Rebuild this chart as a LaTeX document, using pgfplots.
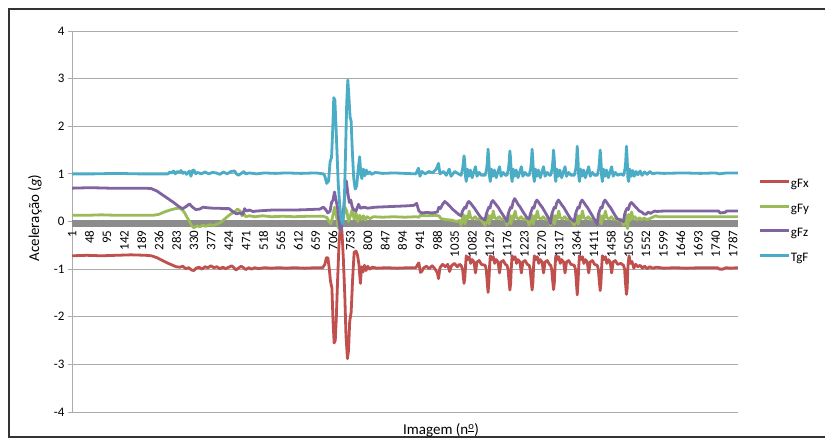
\documentclass[border=0pt]{standalone}
\usepackage{pgfplots}
\pgfplotsset{compat=1.18}
\usepackage{fontspec}
\setmainfont{Carlito}
\definecolor{cx}{HTML}{C0504D}
\definecolor{cy}{HTML}{9BBB59}
\definecolor{cz}{HTML}{8064A2}
\definecolor{ct}{HTML}{4BACC6}
\definecolor{gridc}{HTML}{ABABAB}
\definecolor{bandc}{HTML}{8C8C8C}
\begin{document}
\begin{tikzpicture}
\useasboundingbox (0,0) rectangle (825pt,438pt);
\fill[white] (0,0) rectangle (825pt,438pt);
\draw[line width=1.5pt, black!80] (9pt,-2pt) -- (9pt,429pt) -- (830pt,429pt);
\draw[line width=1.5pt, black!80] (9pt,1pt) -- (830pt,1pt);
\begin{axis}[
 at={(72pt,26pt)}, anchor=south west, scale only axis, width=666pt, height=381pt,
 xmin=0.5, xmax=1800.5, ymin=-4, ymax=4,
 axis x line=middle, axis y line=left, axis line style={-},
 x axis line style={draw=none},
 y axis line style={gridc, line width=0.9pt},
 xtick={1,48,...,1787},
 ytick={-4,-3,-2,-1,0,1,2,3,4},
 ymajorgrids, grid style={gridc, line width=0.9pt},
 xtick style={draw=none},
 ytick style={gridc, line width=0.9pt},
 tick align=outside, major tick length=4pt,
 /pgf/number format/assume math mode=true,
 /pgf/number format/1000 sep={},
 xticklabel shift=4pt,
 xticklabel style={rotate=90, anchor=east, font=\fontsize{13}{14}\selectfont, inner sep=1pt},
 yticklabel style={font=\fontsize{13}{14}\selectfont},
 every axis plot/.append style={line width=2.8pt, line join=round},
 no markers,
 legend style={at={(1.03,0.5)}, anchor=west, draw=none, fill=none, inner sep=0pt, row sep=10.7pt, font=\fontsize{13}{14}\selectfont, nodes={inner sep=1pt, text height=9pt, text depth=3pt}},
 legend cell align=left,
 legend image code/.code={\draw[#1, line width=2.8pt] (0pt,3pt) -- (29pt,3pt);},
]
\addplot[bandc, line width=7pt, forget plot] coordinates {(0.5,-0.035) (1800.5,-0.035)};

\addplot[cx] coordinates {
(1,-0.72) (40,-0.71) (80,-0.72) (120,-0.71) (160,-0.70) (200,-0.71) (215,-0.72) (230,-0.76) (245,-0.82) (258,-0.87) (270,-0.91) (282,-0.95) (292,-0.96) (300,-0.94) (308,-0.99) (316,-0.97) (324,-1.02) (330,-1.03) (336,-0.98) (344,-0.96) (352,-1.0) (360,-0.95) (368,-0.97) (376,-0.93) (384,-0.97) (392,-0.95) (400,-0.99) (408,-0.96) (416,-0.99) (424,-0.96) (432,-0.93) (438,-0.97) (444,-1.02) (450,-0.98) (458,-0.94) (464,-0.97) (470,-1.01) (478,-0.97) (486,-1.0) (494,-0.97) (505,-0.99) (520,-0.97) (540,-0.98) (560,-0.97) (580,-0.98) (600,-0.97) (630,-0.98) (660,-0.97) (678,-0.97) (684,-0.9) (688,-0.76) (692,-0.76) (696,-1.0) (699,-1.25) (703,-1.4) (706,-2.1) (709,-2.55) (712,-2.5) (715,-2.0) (718,-1.3) (722,-0.5) (726,-0.05) (730,-0.2) (734,-0.8) (738,-1.6) (741,-2.4) (745,-2.88) (748,-2.7) (751,-2.1) (755,-1.9) (759,-1.2) (763,-0.65) (768,-0.62) (772,-0.7) (776,-0.9) (780,-1.3) (783,-0.95) (787,-1.06) (791,-0.92) (795,-1.03) (800,-0.94) (805,-1.0) (812,-0.96) (825,-0.98) (850,-0.97) (880,-0.98) (910,-0.97) (930,-0.97) (935,-0.9) (938,-0.87) (942,-1.07) (946,-1.05) (950,-0.98) (958,-0.94) (966,-0.99) (974,-0.93) (982,-1.0) (988,-1.08) (991,-1.2) (995,-0.97) (1002,-0.9) (1010,-0.95) (1016,-0.9) (1021,-1.05) (1026,-0.93) (1034,-0.88) (1042,-0.95) (1048,-0.9)
(1052,-0.92) (1056,-1.0) (1058,-1.15) (1060,-1.3) (1062,-1.2) (1064,-0.95) (1066,-0.72) (1070,-0.8) (1074,-0.74) (1078,-0.88) (1082,-0.8) (1087,-0.85) (1091,-1.08) (1095,-0.85) (1101,-0.82) (1107,-0.9)
(1117,-0.92) (1120,-1.0) (1122,-1.2) (1125,-1.49) (1127,-1.3) (1129,-0.95) (1131,-0.72) (1135,-0.8) (1139,-0.74) (1143,-0.88) (1147,-0.8) (1152,-0.85) (1156,-1.08) (1160,-0.85) (1166,-0.82) (1172,-0.9)
(1176,-0.92) (1179,-1.0) (1181,-1.2) (1184,-1.44) (1186,-1.3) (1188,-0.95) (1190,-0.72) (1194,-0.8) (1198,-0.74) (1202,-0.88) (1206,-0.8) (1211,-0.85) (1215,-1.08) (1219,-0.85) (1225,-0.82) (1231,-0.9)
(1236,-0.92) (1239,-1.0) (1241,-1.2) (1244,-1.44) (1246,-1.3) (1248,-0.95) (1250,-0.72) (1254,-0.8) (1258,-0.74) (1262,-0.88) (1266,-0.8) (1271,-0.85) (1275,-1.08) (1279,-0.85) (1285,-0.82) (1291,-0.9)
(1294,-0.92) (1297,-1.0) (1299,-1.2) (1302,-1.43) (1304,-1.3) (1306,-0.95) (1308,-0.72) (1312,-0.8) (1316,-0.74) (1320,-0.88) (1324,-0.8) (1329,-0.85) (1333,-1.08) (1337,-0.85) (1343,-0.82) (1349,-0.9)
(1358,-0.92) (1361,-1.0) (1363,-1.2) (1366,-1.54) (1368,-1.3) (1370,-0.95) (1372,-0.72) (1376,-0.8) (1380,-0.74) (1384,-0.88) (1388,-0.8) (1393,-0.85) (1397,-1.08) (1401,-0.85) (1407,-0.82) (1413,-0.9)
(1420,-0.92) (1423,-1.0) (1425,-1.2) (1428,-1.45) (1430,-1.3) (1432,-0.95) (1434,-0.72) (1438,-0.8) (1442,-0.74) (1446,-0.88) (1450,-0.8) (1455,-0.85) (1459,-1.08) (1463,-0.85) (1469,-0.82) (1475,-0.9)
(1484,-0.88) (1491,-0.92) (1494,-1.0) (1496,-1.25) (1499,-1.53) (1501,-1.4) (1503,-0.95) (1506,-0.72) (1510,-0.88) (1514,-0.84) (1519,-0.98) (1524,-0.9) (1530,-0.95) (1536,-0.92) (1542,-0.98) (1548,-0.94) (1555,-0.99) (1562,-0.95) (1570,-0.98) (1580,-0.96) (1600,-0.98) (1630,-0.97) (1660,-0.98) (1700,-0.97) (1745,-0.97) (1750,-1.0) (1760,-1.0) (1768,-0.97) (1780,-0.98) (1800,-0.97)
};
\addlegendentry{gFx}

\addplot[cy] coordinates {
(1,0.13) (40,0.13) (80,0.14) (120,0.13) (160,0.13) (200,0.13) (220,0.13) (235,0.15) (250,0.2) (265,0.24) (280,0.27) (290,0.28) (298,0.25) (305,0.18) (312,0.08) (318,0.0) (324,-0.09) (330,-0.13) (338,-0.09) (346,-0.11) (354,-0.08) (362,-0.1) (372,-0.07) (384,-0.08) (394,-0.05) (402,-0.02) (410,0.03) (420,0.1) (430,0.16) (440,0.2) (448,0.26) (455,0.22) (460,0.12) (465,0.17) (470,0.1) (480,0.12) (495,0.1) (515,0.12) (540,0.1) (570,0.11) (600,0.1) (640,0.11) (680,0.11) (690,0.08) (695,0.0) (700,-0.05) (705,0.1) (710,0.3) (715,0.12) (720,-0.12) (726,-0.2) (732,0.0) (738,0.3) (743,0.22) (748,0.0) (753,0.12) (758,0.25) (763,0.05) (768,0.18) (773,0.0) (778,0.13) (783,0.04) (788,0.12) (793,0.03) (798,0.1) (806,0.06) (815,0.1) (840,0.09) (870,0.1) (900,0.09) (930,0.1) (938,0.09) (942,0.13) (960,0.12) (980,0.13) (992,0.12) (998,0.06) (1010,0.04) (1025,0.03) (1040,0.0) (1048,0.02)
(1052,-0.08) (1055,0.05) (1058,0.15) (1060,0.0) (1063,-0.05) (1066,0.12) (1070,0.05) (1074,0.22) (1078,0.08) (1084,0.05) (1090,0.1) (1096,0.04) (1102,0.06) (1108,0.02)
(1117,-0.08) (1120,0.05) (1123,0.15) (1125,0.0) (1128,-0.05) (1131,0.12) (1135,0.05) (1139,0.22) (1143,0.08) (1149,0.05) (1155,0.1) (1161,0.04) (1167,0.06) (1173,0.02)
(1176,-0.08) (1179,0.05) (1182,0.15) (1184,0.0) (1187,-0.05) (1190,0.12) (1194,0.05) (1198,0.22) (1202,0.08) (1208,0.05) (1214,0.1) (1220,0.04) (1226,0.06) (1232,0.02)
(1236,-0.08) (1239,0.05) (1242,0.15) (1244,0.0) (1247,-0.05) (1250,0.12) (1254,0.05) (1258,0.22) (1262,0.08) (1268,0.05) (1274,0.1) (1280,0.04) (1286,0.06) (1291,0.02)
(1294,-0.08) (1297,0.05) (1300,0.15) (1302,0.0) (1305,-0.05) (1308,0.12) (1312,0.05) (1316,0.22) (1320,0.08) (1326,0.05) (1332,0.1) (1338,0.04) (1344,0.06) (1350,0.02)
(1358,-0.08) (1361,0.05) (1364,0.15) (1366,0.0) (1369,-0.05) (1372,0.12) (1376,0.05) (1380,0.22) (1384,0.08) (1390,0.05) (1396,0.1) (1402,0.04) (1408,0.06) (1414,0.02)
(1420,-0.08) (1423,0.05) (1426,0.15) (1428,0.0) (1431,-0.05) (1434,0.12) (1438,0.05) (1442,0.22) (1446,0.08) (1452,0.05) (1458,0.1) (1464,0.04) (1470,0.06) (1476,0.02)
(1484,0.05) (1491,-0.08) (1494,0.05) (1497,0.15) (1499,0.0) (1502,-0.15) (1505,0.15) (1509,0.02) (1513,0.2) (1517,0.05) (1522,0.1) (1528,0.03) (1534,0.08) (1540,0.04) (1547,0.07) (1554,0.04) (1562,0.06) (1570,0.09) (1578,0.12) (1585,0.1) (1620,0.1) (1700,0.1) (1800,0.1)
};
\addlegendentry{gFy}

\addplot[cz] coordinates {
(1,0.70) (50,0.71) (100,0.70) (150,0.70) (200,0.70) (215,0.69) (230,0.64) (245,0.56) (260,0.48) (275,0.40) (290,0.31) (300,0.27) (310,0.32) (318,0.37) (325,0.31) (335,0.25) (345,0.26) (355,0.30) (365,0.29) (380,0.28) (395,0.28) (410,0.27) (425,0.27) (435,0.21) (445,0.16) (455,0.18) (462,0.15) (467,0.27) (472,0.22) (480,0.24) (490,0.21) (500,0.22) (520,0.23) (540,0.24) (560,0.24) (600,0.24) (640,0.25) (670,0.26) (680,0.30) (686,0.25) (692,0.18) (698,0.22) (702,0.4) (706,0.45) (710,0.62) (714,0.45) (718,0.3) (722,0.0) (726,-0.2) (730,-0.1) (734,0.2) (738,0.6) (742,0.85) (746,0.6) (750,0.4) (754,0.45) (758,0.3) (762,0.25) (768,0.22) (775,0.36) (780,0.28) (790,0.3) (800,0.28) (820,0.3) (850,0.31) (880,0.32) (910,0.33) (925,0.34) (932,0.38) (938,0.22) (945,0.18) (960,0.19) (975,0.18) (988,0.2) (992,0.3) (996,0.27) (1002,0.36) (1008,0.42) (1014,0.38) (1022,0.32) (1030,0.25) (1038,0.2) (1045,0.15)
(1052,0.12) (1055,0.2) (1058,0.25) (1062,0.3) (1065,0.28) (1069,0.38) (1073,0.42) (1077,0.39) (1082,0.34) (1088,0.28) (1094,0.21) (1100,0.14) (1106,0.08)
(1117,0.03) (1120,0.15) (1123,0.22) (1127,0.3) (1130,0.28) (1134,0.4) (1138,0.44) (1142,0.4) (1147,0.35) (1153,0.29) (1159,0.21) (1165,0.14) (1171,0.07)
(1176,0.0) (1179,0.15) (1182,0.22) (1186,0.3) (1189,0.28) (1193,0.42) (1197,0.48) (1201,0.43) (1206,0.36) (1212,0.3) (1218,0.22) (1224,0.15) (1230,0.08)
(1236,0.05) (1239,0.15) (1242,0.22) (1246,0.3) (1249,0.28) (1253,0.4) (1257,0.45) (1261,0.41) (1266,0.35) (1272,0.29) (1278,0.21) (1284,0.13) (1290,0.05)
(1294,-0.04) (1297,0.15) (1300,0.22) (1304,0.3) (1307,0.28) (1311,0.4) (1315,0.45) (1319,0.41) (1324,0.35) (1330,0.29) (1336,0.21) (1342,0.13) (1348,0.06)
(1358,0.0) (1361,0.15) (1364,0.22) (1368,0.3) (1371,0.28) (1375,0.4) (1379,0.45) (1383,0.41) (1388,0.35) (1394,0.29) (1400,0.21) (1406,0.13) (1412,0.05)
(1420,-0.07) (1423,0.15) (1426,0.22) (1430,0.3) (1433,0.28) (1437,0.4) (1441,0.45) (1445,0.41) (1450,0.35) (1456,0.29) (1462,0.21) (1468,0.13) (1474,0.06) (1482,0.03)
(1491,0.0) (1494,0.15) (1497,0.22) (1501,0.28) (1504,0.25) (1508,0.36) (1512,0.4) (1516,0.37) (1522,0.32) (1528,0.27) (1534,0.22) (1540,0.2) (1546,0.16) (1552,0.15) (1558,0.2) (1564,0.17) (1570,0.2) (1576,0.22) (1580,0.21) (1600,0.22) (1650,0.22) (1700,0.22) (1748,0.22) (1752,0.18) (1765,0.19) (1770,0.22) (1800,0.22)
};
\addlegendentry{gFz}

\addplot[ct] coordinates {
(1,1.0) (60,1.0) (120,1.01) (180,1.0) (240,1.0) (260,1.0) (265,1.04) (270,1.02) (275,1.06) (280,1.0) (285,1.05) (290,1.03) (295,1.07) (300,1.01) (305,1.04) (310,0.99) (318,1.06) (322,0.95) (326,1.07) (330,1.08) (335,1.0) (340,1.03) (350,1.0) (360,1.04) (370,1.0) (380,1.03) (390,1.02) (400,0.99) (410,1.04) (420,1.0) (430,1.05) (440,1.06) (445,1.0) (450,0.97) (460,1.02) (465,1.05) (470,1.0) (480,1.02) (500,1.0) (520,1.02) (550,1.01) (580,1.02) (620,1.01) (660,1.02) (680,1.0)
(684,0.95) (689,0.8) (694,0.85) (698,1.25) (702,1.35) (705,1.9) (708,2.6) (711,2.55) (714,2.0) (717,1.4) (720,0.8) (724,0.35) (728,0.05) (732,-0.05) (736,0.25) (740,1.5) (743,2.5) (746,2.97) (749,2.6) (752,2.2) (755,2.1) (758,1.5) (762,0.9) (766,0.68) (770,0.75) (774,1.1) (778,1.36) (781,1.0) (784,0.9) (788,1.1) (792,0.96) (796,1.08) (800,1.0) (805,1.04) (810,0.99) (820,1.03) (840,1.01) (870,1.02) (900,1.01) (930,1.0) (937,1.12) (941,0.95) (946,1.05) (955,1.0) (965,1.05) (975,1.02) (985,1.1) (991,1.22) (995,1.0) (1005,1.05) (1012,0.97) (1020,1.1) (1025,0.95) (1035,1.05) (1045,1.0)
(1052,0.97) (1056,1.1) (1058,1.22) (1060,1.38) (1062,1.25) (1064,0.95) (1066,0.84) (1069,1.1) (1073,0.95) (1077,1.08) (1082,0.92) (1087,1.05) (1091,1.15) (1095,0.95) (1101,1.03) (1107,0.97)
(1117,0.97) (1121,1.1) (1123,1.25) (1125,1.52) (1127,1.3) (1129,0.95) (1131,0.84) (1134,1.1) (1138,0.95) (1142,1.08) (1147,0.92) (1152,1.05) (1156,1.15) (1160,0.95) (1166,1.03) (1172,0.97)
(1176,0.97) (1180,1.1) (1182,1.25) (1184,1.48) (1186,1.3) (1188,0.95) (1190,0.84) (1193,1.1) (1197,0.95) (1201,1.08) (1206,0.92) (1211,1.05) (1215,1.15) (1219,0.95) (1225,1.03) (1231,0.97)
(1236,0.97) (1240,1.1) (1242,1.25) (1244,1.52) (1246,1.3) (1248,0.95) (1250,0.84) (1253,1.1) (1257,0.95) (1261,1.08) (1266,0.92) (1271,1.05) (1275,1.15) (1279,0.95) (1285,1.03) (1291,0.97)
(1294,0.97) (1298,1.1) (1300,1.25) (1302,1.5) (1304,1.3) (1306,0.95) (1308,0.84) (1311,1.1) (1315,0.95) (1319,1.08) (1324,0.92) (1329,1.05) (1333,1.15) (1337,0.95) (1343,1.03) (1349,0.97)
(1358,0.97) (1362,1.1) (1364,1.25) (1366,1.58) (1368,1.3) (1370,0.95) (1372,0.84) (1375,1.1) (1379,0.95) (1383,1.08) (1388,0.92) (1393,1.05) (1397,1.15) (1401,0.95) (1407,1.03) (1413,0.97)
(1420,0.97) (1424,1.1) (1426,1.25) (1428,1.5) (1430,1.3) (1432,0.95) (1434,0.84) (1437,1.1) (1441,0.95) (1445,1.08) (1450,0.92) (1455,1.05) (1459,1.15) (1463,0.95) (1469,1.03) (1475,0.97)
(1484,1.0) (1491,0.97) (1495,1.1) (1497,1.25) (1499,1.58) (1501,1.3) (1503,0.9) (1505,0.84) (1508,1.1) (1512,0.95) (1516,1.07) (1520,0.95) (1525,1.05) (1530,0.98) (1536,1.06) (1541,0.97) (1548,1.04) (1555,0.99) (1562,1.05) (1570,1.0) (1580,1.02) (1600,1.01) (1650,1.02) (1700,1.01) (1740,1.02) (1750,1.0) (1770,1.02) (1800,1.02)
};
\addlegendentry{TgF}
\end{axis}
\node[rotate=90, font=\fontsize{15}{18}\selectfont] at (35pt,220pt) {Aceleração (\textit{g})};
\node[anchor=base, font=\fontsize{15}{18}\selectfont] at (441pt,3pt) {Imagem (n\textsuperscript{\underline{o}})};
\end{tikzpicture}
\end{document}
